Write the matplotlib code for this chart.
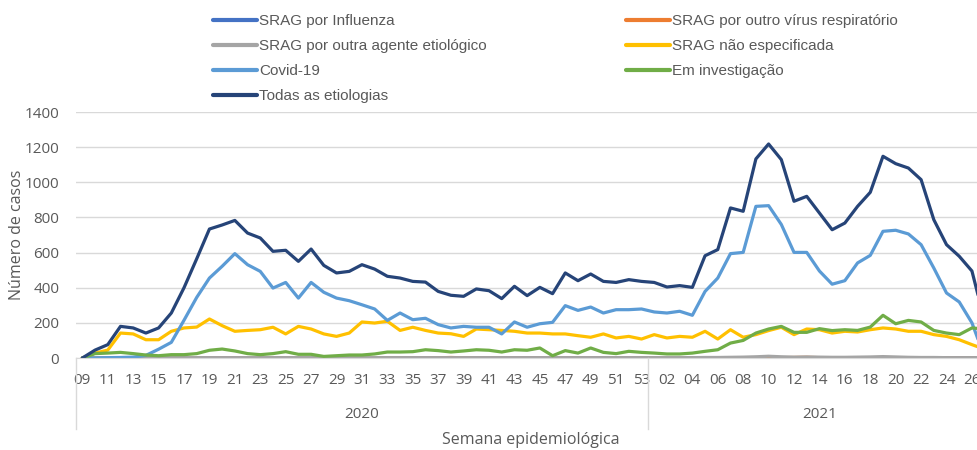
import matplotlib
matplotlib.use("Agg")
import matplotlib.pyplot as plt
import matplotlib.transforms as mtransforms
import numpy as np

# epidemiological weeks: 2020 wk 09-53, 2021 wk 01-27
weeks_2020 = list(range(9, 54))
weeks_2021 = list(range(1, 28))
week_labels = [f"{w:02d}" for w in weeks_2020 + weeks_2021]

influenza = [1, 1, 1, 1, 1, 0, 0, 0, 0, 0, 0, 0, 0, 0, 0, 0, 0, 0, 0, 0,
             0, 0, 0, 0, 0, 0, 0, 0, 0, 0, 0, 0, 0, 0, 0, 0, 0, 0, 0, 0,
             0, 0, 0, 0, 0,
             0, 0, 0, 0, 0, 0, 0, 0, 0, 0, 0, 0, 0, 0, 0, 0, 0, 0, 0, 0,
             0, 0, 1, 1, 2, 1, 1]
outro_virus = [0, 0, 0, 0, 0, 0, 0, 0, 0, 0, 0, 0, 0, 0, 0, 0, 0, 0, 0, 0,
               0, 0, 0, 0, 0, 0, 0, 0, 1, 3, 1, 0, 0, 0, 0, 0, 0, 0, 0, 0,
               0, 0, 0, 0, 0,
               0, 0, 0, 0, 0, 0, 0, 1, 2, 3, 2, 3, 4, 2, 1, 1, 1, 2, 3, 2,
               1, 1, 1, 0, 0, 0, 0]
outra_agente = [1, 1, 2, 2, 2, 2, 2, 2, 2, 2, 2, 2, 2, 2, 2, 2, 2, 2, 2, 2,
                2, 2, 2, 2, 2, 2, 2, 2, 2, 2, 2, 2, 2, 2, 2, 2, 2, 2, 2, 2,
                2, 2, 2, 2, 2,
                2, 2, 2, 2, 3, 3, 4, 5, 7, 10, 7, 5, 6, 5, 4, 4, 5, 6, 8, 6,
                4, 3, 3, 2, 2, 2, 2]
nao_especificada = [0, 28, 45, 142, 137, 104, 104, 152, 171, 176,
                    222, 184, 152, 157, 161, 175, 137, 180, 165, 137,
                    123, 142, 205, 199, 209, 157, 175, 157, 142, 138,
                    123, 165, 161, 157, 152, 142, 142, 137, 137, 127,
                    118, 137, 114, 123, 108,
                    133, 114, 123, 118, 152, 108, 161, 118, 133, 156,
                    175, 133, 165, 161, 142, 152, 148, 161, 171, 165,
                    152, 152, 133, 123, 104, 76, 50]
covid = [0, 0, 2, 3, 5, 15, 50, 89, 215, 345,
         455, 522, 594, 531, 493, 398, 430, 341, 430, 374,
         341, 326, 303, 279, 214, 256, 218, 226, 190, 171,
         180, 175, 175, 137, 205, 175, 195, 203, 298, 271,
         290, 256, 275, 275, 279,
         262, 256, 266, 243, 379, 455, 594, 601, 863, 867,
         760, 601, 601, 495, 420, 440, 541, 584, 721, 727,
         706, 645, 512, 370, 319, 200, 5]
investigacao = [0, 25, 28, 32, 25, 17, 13, 19, 19, 25,
                44, 51, 40, 25, 19, 25, 36, 21, 21, 9,
                13, 17, 17, 23, 34, 34, 36, 47, 42, 34,
                40, 47, 44, 34, 47, 44, 57, 13, 42, 28,
                57, 32, 25, 38, 32,
                28, 23, 23, 28, 38, 47, 85, 100, 142, 165,
                180, 146, 146, 167, 156, 161, 157, 176, 243, 195,
                214, 205, 157, 142, 133, 171, 165]
todas = [0, 45, 76, 180, 171, 142, 171, 256, 400, 565,
         734, 757, 783, 711, 683, 607, 613, 550, 620, 527,
         484, 493, 531, 506, 465, 455, 436, 432, 379, 357,
         351, 393, 383, 338, 408, 355, 402, 366, 484, 440,
         478, 436, 430, 446, 436,
         430, 404, 412, 402, 582, 617, 854, 835, 1133, 1218,
         1129, 892, 920, 825, 730, 768, 863, 943, 1148, 1106,
         1081, 1015, 787, 645, 579, 495, 210]

series = [
    ("SRAG por Influenza", influenza, "#4472C4"),
    ("SRAG por outro vírus respiratório", outro_virus, "#ED7D31"),
    ("SRAG por outra agente etiológico", outra_agente, "#A5A5A5"),
    ("SRAG não especificada", nao_especificada, "#FFC000"),
    ("Covid-19", covid, "#5B9BD5"),
    ("Em investigação", investigacao, "#70AD47"),
    ("Todas as etiologias", todas, "#264478"),
]

TXT = "#595959"
GRID = "#D9D9D9"
tick_font = ["Open Sans", "DejaVu Sans"]
leg_font = ["Liberation Sans Narrow", "Liberation Sans", "DejaVu Sans"]

W, H = 978, 450
fig = plt.figure(figsize=(W / 100, H / 100), dpi=100)
# axes run a little past the right edge, like the cropped original
ax = fig.add_axes([76 / W, 92 / H, 915 / W, 246 / H])

x = np.arange(len(week_labels))
lines = {}
for name, vals, col in series:
    (ln,) = ax.plot(x, vals, color=col, lw=2.3, label=name,
                    solid_joinstyle="round", solid_capstyle="round")
    lines[name] = ln

ax.set_xlim(-0.5, len(week_labels) - 0.5)
ax.set_ylim(0, 1400)
ax.set_yticks(np.arange(0, 1401, 200))
ax.grid(axis="y", color=GRID, lw=1)
ax.set_axisbelow(True)
for s in ("top", "right", "left"):
    ax.spines[s].set_visible(False)
ax.spines["bottom"].set_color(GRID)

ax.set_xticks(x[::2])
ax.set_xticklabels(week_labels[::2])
ax.tick_params(axis="x", length=0, pad=11, labelsize=11, labelcolor=TXT)
ax.tick_params(axis="y", length=0, pad=12, labelsize=11, labelcolor=TXT)
for lab in ax.get_xticklabels() + ax.get_yticklabels():
    lab.set_family(tick_font)

# year level of the category axis
n20 = len(weeks_2020)
trans = ax.get_xaxis_transform()
for xs in (-0.5, n20 - 0.5):
    ax.plot([xs, xs], [0, -0.29], transform=trans, color=GRID, lw=1, clip_on=False)
yr_trans = mtransforms.blended_transform_factory(ax.transData, fig.transFigure)
ax.text((n20 - 1) / 2, 1 - 415 / H, "2020", transform=yr_trans, ha="center",
        va="center", fontsize=11, color=TXT, family=tick_font)
ax.text(n20 + (len(weeks_2021) - 1) / 2, 1 - 415 / H, "2021", transform=yr_trans,
        ha="center", va="center", fontsize=11, color=TXT, family=tick_font)

fig.text(531 / W, 1 - 440 / H, "Semana epidemiológica", ha="center", va="center",
         fontsize=11.5, color=TXT, family=tick_font)
fig.text(17 / W, 1 - 235 / H, "Número de casos", ha="center", va="center",
         rotation=90, fontsize=11.5, color=TXT, family=tick_font)

# legend: two columns placed separately
col1 = ["SRAG por Influenza", "SRAG por outra agente etiológico", "Covid-19",
        "Todas as etiologias"]
col2 = ["SRAG por outro vírus respiratório", "SRAG não especificada",
        "Em investigação"]
for names, x0 in ((col1, 213), (col2, 626)):
    leg = fig.legend([lines[n] for n in names], names, loc="upper left",
                     bbox_to_anchor=(x0 / W, 1 - 14 / H), frameon=False,
                     borderpad=0, borderaxespad=0, handlelength=2.9,
                     handletextpad=0.1, labelspacing=0.72,
                     prop={"family": leg_font, "size": 11})
    for t in leg.get_texts():
        t.set_color(TXT)
    for h in leg.legend_handles:
        h.set_linewidth(3)

fig.savefig("out.png", dpi=100)
